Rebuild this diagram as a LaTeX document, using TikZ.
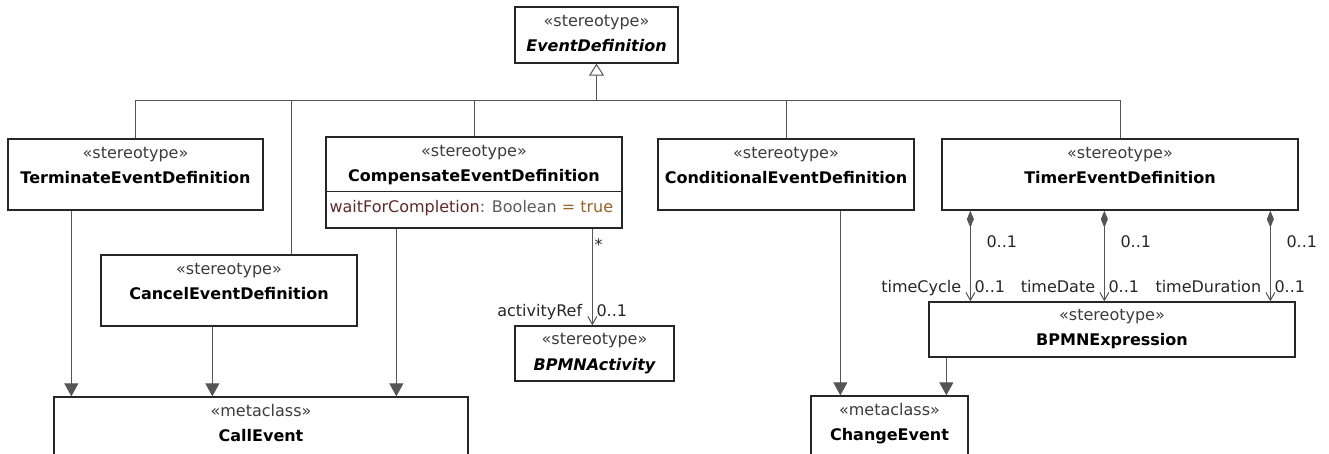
\documentclass[tikz,border=0pt]{standalone}
\usepackage{fontspec}
\setmainfont{DejaVu Sans}
\usetikzlibrary{arrows.meta,positioning,calc}

\definecolor{linegray}{RGB}{85,85,85}
\definecolor{stereogray}{RGB}{60,60,60}
\definecolor{attrred}{RGB}{95,40,40}
\definecolor{attrgray}{RGB}{90,90,90}
\definecolor{attrval}{RGB}{150,100,35}

\newcommand\umlfont{\fontsize{16}{19}\selectfont}

\tikzset{
  cls/.style={draw=black!85, line width=1.3pt, rectangle, inner sep=0pt},
  stereo/.style={anchor=base, inner sep=0pt, text=stereogray, font=\umlfont},
  cname/.style={anchor=base, inner sep=0pt, font=\umlfont\bfseries},
  aname/.style={anchor=base, inner sep=0pt, font=\umlfont\bfseries\itshape},
  lbl/.style={inner sep=0pt, text=black!85, font=\umlfont},
  conn/.style={draw=linegray, line width=1pt},
  gen/.style={conn, -{Triangle[open, length=12pt, width=15pt, fill=white]}},
  ext/.style={conn, -{Triangle[length=13pt, width=14pt, fill=linegray]}},
  assoc/.style={conn, -{Straight Barb[length=8pt, width=9pt]}},
  compo/.style={conn, {Diamond[length=17pt, width=7pt, fill=linegray]}-{Straight Barb[length=8pt, width=9pt]}}
}

\begin{document}
\begin{tikzpicture}[x=1pt, y=-1pt]
\clip (0,0) rectangle (1329,454);
%classes
\node[cls, minimum width=163pt, minimum height=56pt] (evdef) at (596.5,35) {};
\node[stereo] (evdef-st) at ($(evdef.north)+(0,20)$) {«stereotype»};
\node[aname] (evdef-nm) at ($(evdef.north)+(0,45)$) {EventDefinition};

\node[cls, minimum width=255pt, minimum height=71pt] (term) at (135.5,174.5) {};
\node[stereo] (term-st) at ($(term.north)+(0,20)$) {«stereotype»};
\node[cname] (term-nm) at ($(term.north)+(0,45)$) {TerminateEventDefinition};

\node[cls, minimum width=256pt, minimum height=71pt] (cancel) at (229,290.5) {};
\node[stereo] (cancel-st) at ($(cancel.north)+(0,20)$) {«stereotype»};
\node[cname] (cancel-nm) at ($(cancel.north)+(0,45)$) {CancelEventDefinition};

\node[cls, minimum width=296pt, minimum height=91pt] (comp) at (474,182.5) {};
\node[stereo] (comp-st) at ($(comp.north)+(0,20)$) {«stereotype»};
\node[cname] (comp-nm) at ($(comp.north)+(0,45)$) {CompensateEventDefinition};
\draw[draw=black!85, line width=1.3pt] ($(comp.north west)+(0,55)$) -- ($(comp.north east)+(0,55)$);
\node[lbl, anchor=base west] (comp-attr) at ($(comp.north west)+(4,76)$)
  {\textcolor{attrred}{waitForCompletion}\textcolor{attrgray}{ : Boolean }\textcolor{attrval}{= true}};

\node[cls, minimum width=159pt, minimum height=55pt] (bpmnact) at (594.5,353.5) {};
\node[stereo] (bpmnact-st) at ($(bpmnact.north)+(0,19)$) {«stereotype»};
\node[aname] (bpmnact-nm) at ($(bpmnact.north)+(0,45)$) {BPMNActivity};

\node[cls, minimum width=256pt, minimum height=71pt] (cond) at (786,174.5) {};
\node[stereo] (cond-st) at ($(cond.north)+(0,20)$) {«stereotype»};
\node[cname] (cond-nm) at ($(cond.north)+(0,45)$) {ConditionalEventDefinition};

\node[cls, minimum width=356pt, minimum height=71pt] (timer) at (1120,174.5) {};
\node[stereo] (timer-st) at ($(timer.north)+(0,20)$) {«stereotype»};
\node[cname] (timer-nm) at ($(timer.north)+(0,45)$) {TimerEventDefinition};

\node[cls, minimum width=366pt, minimum height=55pt] (bpmnexpr) at (1112,329.5) {};
\node[stereo] (bpmnexpr-st) at ($(bpmnexpr.north)+(0,19)$) {«stereotype»};
\node[cname] (bpmnexpr-nm) at ($(bpmnexpr.north)+(0,44)$) {BPMNExpression};

\node[cls, minimum width=414pt, minimum height=80pt] (callev) at (261,437) {};
\node[stereo] (callev-st) at ($(callev.north)+(0,20)$) {«metaclass»};
\node[cname] (callev-nm) at ($(callev.north)+(0,45)$) {CallEvent};

\node[cls, minimum width=157pt, minimum height=80pt] (changeev) at (889.5,436) {};
\node[stereo] (changeev-st) at ($(changeev.north)+(0,20)$) {«metaclass»};
\node[cname] (changeev-nm) at ($(changeev.north)+(0,45)$) {ChangeEvent};

%generalization tree
\coordinate[below=37pt of evdef.south] (bus);
\coordinate (cn) at ($(cancel.north)+(62,0)$);
\draw[gen] (bus) -- (evdef);
\draw[conn] (term.north) |- (bus) -| (timer.north);
\draw[conn] (cn) -- (cn |- bus);
\draw[conn] (comp.north) -- (comp.north |- bus);
\draw[conn] (cond.north) -- (cond.north |- bus);

%extensions
\coordinate (ce1) at ($(callev.north west)+(18,0)$);
\coordinate (ce2) at ($(callev.north west)+(159,0)$);
\coordinate (ce3) at ($(callev.north west)+(343,0)$);
\coordinate (ch1) at ($(changeev.north west)+(30,0)$);
\coordinate (ch2) at ($(changeev.north west)+(136,0)$);
\draw[ext] (term.south -| ce1) -- (ce1);
\draw[ext] (cancel.south -| ce2) -- (ce2);
\draw[ext] (comp.south -| ce3) -- (ce3);
\draw[ext] (cond.south -| ch1) -- (ch1);
\draw[ext] (bpmnexpr.south -| ch2) -- (ch2);

%associations
\coordinate (act) at ($(bpmnact.north west)+(78,0)$);
\draw[assoc] (comp.south -| act) -- (act);
\node[lbl, anchor=base west] (act-many) at ($(comp.south -| act)+(2,22)$) {*};
\node[lbl, anchor=base east] (act-role) at ($(act)+(-10,-9)$) {activityRef};
\node[lbl, anchor=base west] (act-mult) at ($(act)+(4,-9)$) {0..1};

\coordinate (tc) at ($(timer.south west)+(29,0)$);
\coordinate (td) at ($(timer.south west)+(163,0)$);
\coordinate (tu) at ($(timer.south west)+(329,0)$);
\draw[compo] (tc) -- (tc |- bpmnexpr.north);
\draw[compo] (td) -- (td |- bpmnexpr.north);
\draw[compo] (tu) -- (tu |- bpmnexpr.north);
\node[lbl, anchor=base west] (tc-own) at ($(tc)+(16,37)$) {0..1};
\node[lbl, anchor=base west] (td-own) at ($(td)+(16,37)$) {0..1};
\node[lbl, anchor=base west] (tu-own) at ($(tu)+(16,37)$) {0..1};
\node[lbl, anchor=base east] (tc-role) at ($(tc |- bpmnexpr.north)+(-9,-9)$) {timeCycle};
\node[lbl, anchor=base west] (tc-mult) at ($(tc |- bpmnexpr.north)+(4,-9)$) {0..1};
\node[lbl, anchor=base east] (td-role) at ($(td |- bpmnexpr.north)+(-9,-9)$) {timeDate};
\node[lbl, anchor=base west] (td-mult) at ($(td |- bpmnexpr.north)+(4,-9)$) {0..1};
\node[lbl, anchor=base east] (tu-role) at ($(tu |- bpmnexpr.north)+(-9,-9)$) {timeDuration};
\node[lbl, anchor=base west] (tu-mult) at ($(tu |- bpmnexpr.north)+(4,-9)$) {0..1};
\end{tikzpicture}
\end{document}
